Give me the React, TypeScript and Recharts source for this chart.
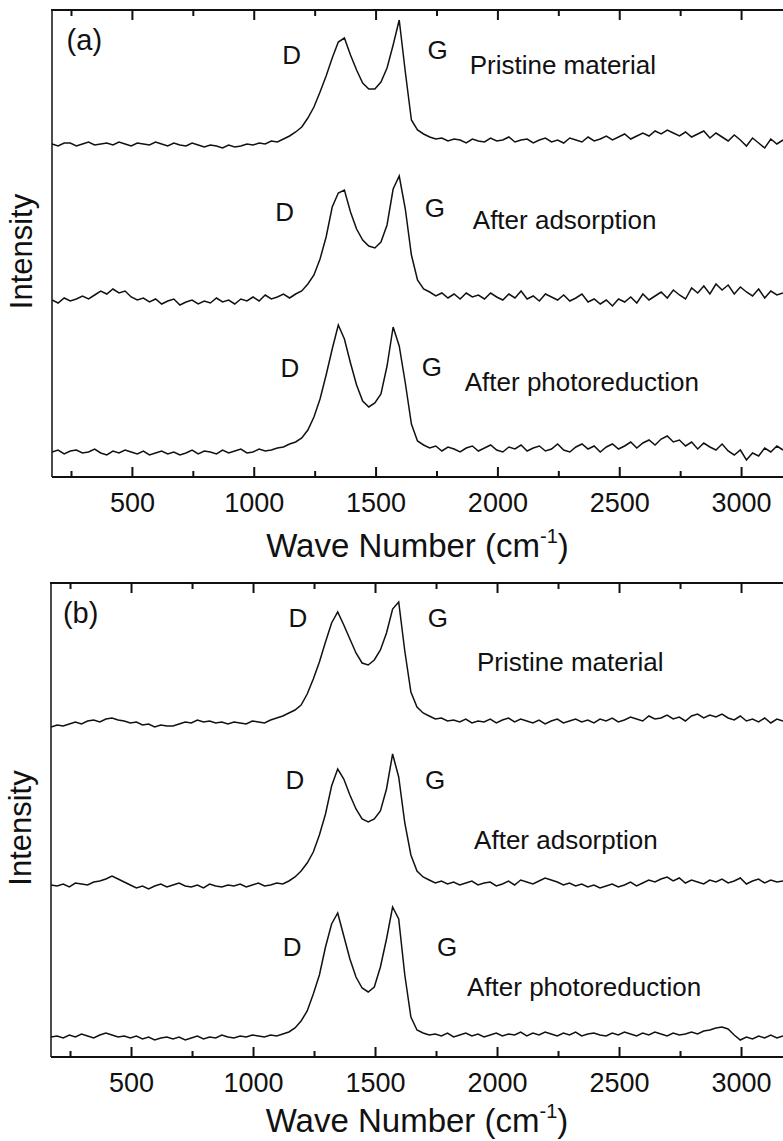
import { LineChart, Line, XAxis, YAxis, ReferenceDot } from 'recharts';

// Raman spectra; intensities are arbitrary units (offset traces)
const wavenumbers = [
  170, 195, 220, 245, 270, 295, 320, 345, 370, 395,
  420, 445, 470, 495, 520, 545, 570, 595, 620, 645,
  670, 695, 720, 745, 770, 795, 820, 845, 870, 895,
  920, 945, 970, 995, 1020, 1045, 1070, 1095, 1120, 1145,
  1170, 1195, 1220, 1245, 1270, 1295, 1320, 1345, 1370, 1395,
  1420, 1445, 1470, 1495, 1520, 1545, 1570, 1595, 1620, 1645,
  1670, 1695, 1720, 1745, 1770, 1795, 1820, 1845, 1870, 1895,
  1920, 1945, 1970, 1995, 2020, 2045, 2070, 2095, 2120, 2145,
  2170, 2195, 2220, 2245, 2270, 2295, 2320, 2345, 2370, 2395,
  2420, 2445, 2470, 2495, 2520, 2545, 2570, 2595, 2620, 2645,
  2670, 2695, 2720, 2745, 2770, 2795, 2820, 2845, 2870, 2895,
  2920, 2945, 2970, 2995, 3020, 3045, 3070, 3095, 3120, 3145,
  3170,
];

// panel (a)
const aPristine = [
  333, 331, 334, 334, 331, 333, 335, 332, 333, 334,
  332, 335, 333, 331, 334, 333, 332, 335, 333, 331,
  334, 332, 331, 334, 332, 330, 332, 331, 329, 332,
  330, 331, 333, 332, 334, 333, 336, 335, 338, 341,
  345, 350, 359, 370, 385, 401, 419, 435, 439, 422,
  407, 394, 388, 388, 395, 409, 432, 457, 405, 357,
  347, 343, 340, 338, 339, 336, 338, 337, 334, 338,
  336, 335, 339, 336, 337, 340, 335, 337, 338, 334,
  337, 339, 335, 337, 334, 339, 337, 335, 340, 336,
  338, 341, 337, 340, 343, 338, 341, 344, 341, 346,
  343, 347, 344, 341, 345, 340, 343, 346, 339, 344,
  340, 336, 342, 337, 331, 339, 334, 329, 338, 333,
  337,
];
const aAdsorption = [
  177, 174, 179, 176, 178, 181, 178, 182, 186, 183,
  188, 184, 186, 180, 177, 179, 175, 178, 173, 176,
  178, 172, 175, 177, 173, 176, 174, 179, 175, 177,
  173, 178, 176, 180, 176, 182, 178, 180, 183, 179,
  183, 186, 193, 202, 218, 240, 270, 284, 287, 265,
  248, 237, 231, 229, 235, 252, 288, 301, 268, 222,
  197, 188, 185, 181, 184, 179, 183, 178, 184, 180,
  182, 178, 184, 180, 177, 183, 179, 186, 178, 181,
  176, 183, 180, 177, 182, 176, 179, 183, 175, 178,
  173, 177, 171, 178, 175, 180, 174, 183, 177, 181,
  185, 179, 187, 182, 178, 189, 184, 191, 183, 193,
  187, 192, 183, 190, 185, 181, 188, 179, 186, 182,
  184,
];
const aPhoto = [
  25, 27, 23, 26, 27, 24, 25, 28, 24, 22,
  26, 24, 27, 25, 23, 26, 22, 24, 26, 23,
  25, 22, 24, 27, 23, 26, 25, 23, 27, 24,
  26, 28, 24, 25, 28, 26, 27, 29, 30, 33,
  35, 39, 47, 60, 78, 102, 128, 152, 138, 114,
  92, 76, 70, 74, 83, 111, 150, 131, 94, 53,
  36, 32, 29, 31, 26, 30, 28, 25, 29, 31,
  26, 29, 32, 27, 25, 30, 28, 32, 26, 29,
  31, 26, 28, 33, 27, 25, 30, 33, 28, 31,
  25, 30, 33, 28, 31, 35, 29, 34, 37, 32,
  38, 41, 35, 37, 31, 35, 28, 34, 30, 27,
  33, 26, 22, 27, 17, 24, 21, 29, 25, 31,
  27,
];

// panel (b)
const bPristine = [
  330, 332, 331, 333, 335, 333, 336, 337, 335, 338,
  339, 337, 336, 334, 335, 332, 333, 330, 332, 331,
  331, 333, 335, 334, 337, 335, 336, 334, 335, 333,
  335, 334, 333, 336, 335, 334, 337, 339, 341, 344,
  347, 352, 363, 378, 395, 415, 434, 445, 432, 418,
  404, 394, 392, 397, 407, 424, 448, 455, 406, 365,
  350, 344, 341, 338, 339, 336, 337, 335, 338, 334,
  336, 335, 338, 334, 337, 339, 335, 338, 336, 334,
  337, 333, 336, 338, 334, 336, 338, 335, 337, 334,
  338, 336, 339, 335, 337, 340, 338, 336, 341, 338,
  339, 342, 338, 340, 336, 341, 343, 339, 342, 340,
  343, 339, 337, 341, 336, 338, 335, 339, 334, 338,
  336,
];
const bAdsorption = [
  172, 171, 173, 170, 174, 173, 172, 175, 176, 178,
  181, 178, 175, 172, 169, 171, 168, 171, 173, 170,
  172, 174, 171, 170, 172, 169, 173, 171, 170, 172,
  171, 173, 170, 172, 174, 171, 172, 174, 173, 176,
  180, 186, 194, 205, 222, 243, 271, 288, 278, 262,
  248, 238, 235, 238, 246, 268, 303, 280, 234, 202,
  186, 180, 177, 174, 176, 173, 175, 172, 174, 176,
  172, 174, 175, 171, 173, 176, 172, 177, 175, 173,
  176, 179, 177, 175, 172, 174, 171, 173, 170, 172,
  169, 171, 173, 170, 172, 175, 171, 174, 177, 175,
  178, 180, 176, 179, 174, 177, 175, 173, 177, 175,
  178, 174, 176, 179, 173, 176, 178, 174, 177, 175,
  176,
];
const bPhoto = [
  20, 21, 19, 22, 20, 23, 21, 19, 22, 24,
  22, 20, 21, 19, 21, 18, 20, 17, 19, 20,
  18, 20, 17, 19, 21, 18, 20, 19, 22, 20,
  19, 21, 20, 22, 21, 20, 22, 21, 23, 25,
  29, 36, 46, 63, 82, 110, 133, 144, 121, 98,
  80, 69, 65, 70, 90, 118, 150, 138, 82, 40,
  27, 24, 22, 23, 21, 24, 20, 22, 24, 21,
  23, 20, 22, 24, 21, 23, 22, 25, 21, 24,
  22, 25, 23, 21, 24, 22, 25, 21, 23, 24,
  22, 21, 24, 22, 25, 23, 21, 24, 22, 25,
  23, 21, 24, 22, 23, 25, 23, 26, 27, 29,
  30, 28, 22, 17, 20, 18, 21, 19, 22, 19,
  21,
];

const allTicks = [250, 500, 750, 1000, 1250, 1500, 1750, 2000, 2250, 2500, 2750, 3000];
const majorTicks = [500, 1000, 1500, 2000, 2500, 3000];

type Note = { text: string; x: number; y: number; big?: boolean; left?: boolean };

const notesA: Note[] = [
  { text: '(a)', x: 230, y: 437, big: true, left: true },
  { text: 'D', x: 1153, y: 422 },
  { text: 'G', x: 1753, y: 427 },
  { text: 'Pristine material', x: 1884, y: 412, left: true },
  { text: 'D', x: 1125, y: 265 },
  { text: 'G', x: 1741, y: 269 },
  { text: 'After adsorption', x: 1897, y: 257, left: true },
  { text: 'D', x: 1146, y: 109 },
  { text: 'G', x: 1729, y: 110 },
  { text: 'After photoreduction', x: 1864, y: 95, left: true },
];

const notesB: Note[] = [
  { text: '(b)', x: 219, y: 444, big: true, left: true },
  { text: 'D', x: 1182, y: 439 },
  { text: 'G', x: 1756, y: 439 },
  { text: 'Pristine material', x: 1916, y: 395, left: true },
  { text: 'D', x: 1170, y: 277 },
  { text: 'G', x: 1744, y: 277 },
  { text: 'After adsorption', x: 1904, y: 217, left: true },
  { text: 'D', x: 1158, y: 110 },
  { text: 'G', x: 1793, y: 110 },
  { text: 'After photoreduction', x: 1875, y: 70, left: true },
];

const INK = '#111';
const FONT = '"Liberation Sans", Arial, Helvetica, sans-serif';

// inward mark on the bottom axis, mirrored mark on the top frame, label for majors
function FrameTick(props: any) {
  const { x, y, payload, plotHeight } = props;
  const major = majorTicks.includes(payload.value);
  const len = major ? 10 : 6;
  const top = y - plotHeight;
  return (
    <g>
      <path d={`M${x},${y}V${y - len}M${x},${top}V${top + len}`} stroke={INK} strokeWidth={2} fill="none" />
      {major && (
        <text x={x} y={y + 35} textAnchor="middle" fontSize={27} fill={INK} stroke="none">
          {payload.value}
        </text>
      )}
    </g>
  );
}

// axis title; also draws the top edge of the frame across the plot width
function WaveTitle(props: any) {
  const { viewBox, drop, plotHeight } = props;
  const cx = viewBox.x + viewBox.width / 2;
  const top = viewBox.y - plotHeight;
  return (
    <g>
      <path d={`M${viewBox.x - 1},${top}H${viewBox.x + viewBox.width}`} stroke={INK} strokeWidth={2} fill="none" />
      <text x={cx} y={viewBox.y + drop} textAnchor="middle" fontSize={33} fill={INK}>
        Wave Number (cm
        <tspan dy={-14} fontSize={20}>-1</tspan>
        <tspan dy={14}>)</tspan>
      </text>
    </g>
  );
}

function IntensityTitle(props: any) {
  const { viewBox } = props;
  const cy = viewBox.y + viewBox.height / 2 + 8;
  const x = viewBox.x - 19;
  return (
    <text x={x} y={cy} transform={`rotate(-90 ${x} ${cy})`} textAnchor="middle" fontSize={31} fill={INK}>
      Intensity
    </text>
  );
}

function Panel({
  series,
  notes,
  height,
  top,
  left,
  axisHeight,
  yMax,
  titleDrop,
}: {
  series: number[][];
  notes: Note[];
  height: number;
  top: number;
  left: number;
  axisHeight: number;
  yMax: number;
  titleDrop: number;
}) {
  const rows = wavenumbers.map((wn, i) => ({
    wn,
    pristine: series[0][i],
    adsorption: series[1][i],
    photo: series[2][i],
  }));
  const plotHeight = height - top - axisHeight;

  return (
    <LineChart width={783} height={height} data={rows} margin={{ top, right: 0, left, bottom: 0 }}>
      <XAxis
        dataKey="wn"
        type="number"
        domain={[170, 3170]}
        allowDataOverflow
        ticks={allTicks}
        interval={0}
        height={axisHeight}
        tickSize={0}
        tickMargin={0}
        tickLine={false}
        tick={<FrameTick plotHeight={plotHeight} />}
        axisLine={{ stroke: INK, strokeWidth: 1.8 }}
        label={<WaveTitle drop={titleDrop} plotHeight={plotHeight} />}
      />
      <YAxis
        type="number"
        domain={[0, yMax]}
        allowDataOverflow
        width={1}
        tick={false}
        tickLine={false}
        axisLine={{ stroke: INK, strokeWidth: 1.5 }}
        label={<IntensityTitle />}
      />
      {['pristine', 'adsorption', 'photo'].map((key) => (
        <Line
          key={key}
          dataKey={key}
          type="linear"
          stroke={INK}
          strokeWidth={1.5}
          dot={false}
          isAnimationActive={false}
        />
      ))}
      {notes.map((n, i) => (
        <ReferenceDot
          key={i}
          x={n.x}
          y={n.y}
          r={0}
          fill="none"
          stroke="none"
          ifOverflow="visible"
          label={{
            value: n.text,
            position: n.left ? 'right' : 'center',
            offset: 0,
            fontSize: n.big ? 29 : 26,
            fill: INK,
          }}
        />
      ))}
    </LineChart>
  );
}

export default function App() {
  return (
    <div
      style={{
        position: 'absolute',
        left: 0,
        top: 0,
        width: 783,
        height: 1141,
        overflow: 'hidden',
        background: '#fff',
        fontFamily: FONT,
      }}
    >
      <div style={{ position: 'absolute', left: 0, top: 0 }}>
        <Panel
          series={[aPristine, aAdsorption, aPhoto]}
          notes={notesA}
          height={575}
          top={10}
          left={51}
          axisHeight={98}
          yMax={467}
          titleDrop={80}
        />
      </div>
      <div style={{ position: 'absolute', left: 0, top: 575 }}>
        <Panel
          series={[bPristine, bAdsorption, bPhoto]}
          notes={notesB}
          height={566}
          top={8}
          left={50}
          axisHeight={84}
          yMax={474}
          titleDrop={75}
        />
      </div>
    </div>
  );
}
